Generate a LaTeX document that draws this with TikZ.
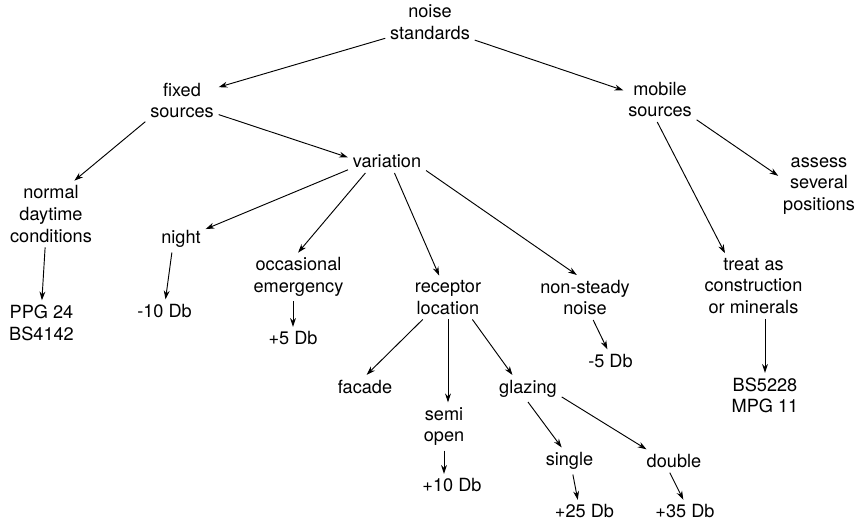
\documentclass[tikz,border=0pt]{standalone}
\usepackage{fontspec}
\setmainfont{TeX Gyre Heros}
\usetikzlibrary{arrows.meta}

\begin{document}
\begin{tikzpicture}[x=0.03cm,y=-0.03cm,
  lbl/.style={align=center,inner sep=4pt,font=\fontsize{15.5}{18.5}\selectfont},
  arr/.style={-{Stealth[length=7.5pt,width=5pt]},line width=0.8pt}]
\useasboundingbox (0,0) rectangle (858,524);
% the two kinds of source
\node[lbl] (N) at (430,22) {noise\\standards};
\node[lbl] (F) at (182,100.5) {fixed\\sources};
\node[lbl] (M) at (660,99.5) {mobile\\sources};
\node[lbl] (V) at (387,161.5) {variation};
\node[lbl] (Nd) at (51,214) {normal\\daytime\\conditions};
\node[lbl] (A) at (819,186) {assess\\several\\positions};
% the variations
\node[lbl] (Ni) at (181,239) {night};
\node[lbl] (O) at (298.5,277) {occasional\\emergency};
\node[lbl] (R) at (448,297.5) {receptor\\location};
\node[lbl] (Ns) at (585,297.5) {non-steady\\noise};
\node[lbl] (T) at (753.5,286) {treat as\\construction\\or minerals};
% corrections and documents
\node[lbl] (P) at (41.5,323) {PPG 24\\BS4142};
\node[lbl] (m10) at (164.5,311) {-10 Db};
\node[lbl] (p5) at (293,338.5) {+5 Db};
\node[lbl] (Fa) at (365,386.5) {facade};
\node[lbl] (S) at (444,426.5) {semi\\open};
\node[lbl] (G) at (528,388.5) {glazing};
\node[lbl] (m5) at (610.5,361) {-5 Db};
\node[lbl] (B) at (765,395.5) {BS5228\\MPG 11};
\node[lbl] (p10) at (452,485.5) {+10 Db};
\node[lbl] (Si) at (569.5,461) {single};
\node[lbl] (Do) at (674,461) {double};
\node[lbl] (p25) at (584.5,511.5) {+25 Db};
\node[lbl] (p35) at (685,511.5) {+35 Db};

% arrows
\draw[arr] (N.200) -- (F.20);
\draw[arr] (N.338) -- (M.166);
\draw[arr] (F.210) -- (Nd.55);
\draw[arr] (F.339) -- (V.174);
\draw[arr] (V.192) -- (Ni.22);
\draw[arr] (V.208) -- (O.91);
\draw[arr] (V.303) -- (R.112);
\draw[arr] (V.347) -- (Ns.110);
\draw[arr] (M.263) -- (T.131);
\draw[arr] (M.331) -- (A.166);
\draw[arr] (Nd.260) -- (P.89);
\draw[arr] (Ni.236) -- (m10.85);
\draw[arr] (p5.north |- O.south) -- (p5.north);
\draw[arr] (R.221) -- (Fa.82);
\draw[arr] (R.south) -- (R.south |- S.north);
\draw[arr] (R.318) -- (G.139);
\draw[arr] (Ns.290) -- (m5.105);
\draw[arr] (B.north |- T.south) -- (B.north);
\draw[arr] (S.south) -- (S.south |- p10.north);
\draw[arr] (G.270) -- (Si.120);
\draw[arr] (G.346) -- (Do.157);
\draw[arr] (Si.284) -- (p25.120);
\draw[arr] (Do.250) -- (p35.98);
\end{tikzpicture}
\end{document}
